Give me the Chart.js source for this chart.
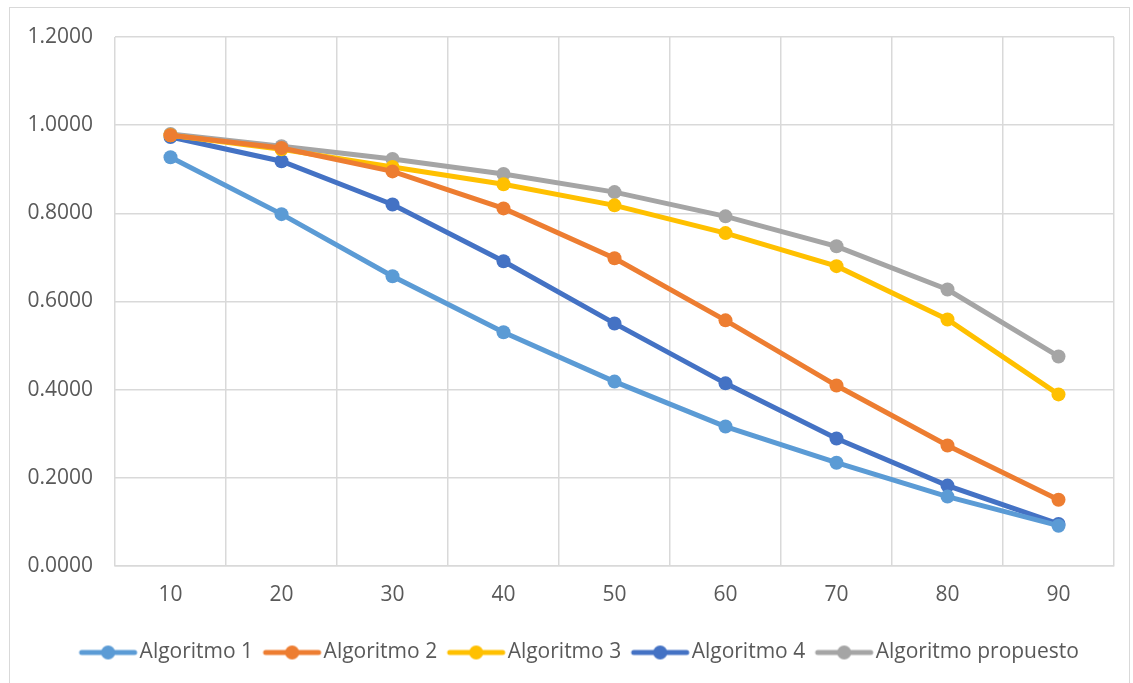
<!DOCTYPE html>
<html>
<head>
<meta charset="utf-8">
<script src="https://cdn.jsdelivr.net/npm/chart.js@4"></script>
<style>
  html, body { margin: 0; padding: 0; background: #fff; }
  #wrap { width: 1133px; height: 683px; position: relative; }
</style>
</head>
<body>
<div id="wrap"><canvas id="lineChart" width="1133" height="683"></canvas></div>
<script>
const categories = ['10', '20', '30', '40', '50', '60', '70', '80', '90'];
const algoritmo1 = [0.927, 0.798, 0.657, 0.530, 0.418, 0.316, 0.234, 0.157, 0.091];
const algoritmo2 = [0.977, 0.948, 0.895, 0.811, 0.698, 0.557, 0.409, 0.273, 0.150];
const algoritmo3 = [0.977, 0.945, 0.905, 0.866, 0.818, 0.755, 0.680, 0.559, 0.389];
const algoritmo4 = [0.973, 0.918, 0.820, 0.691, 0.550, 0.414, 0.289, 0.182, 0.095];
const propuesto  = [0.980, 0.952, 0.923, 0.889, 0.848, 0.793, 0.725, 0.627, 0.475];
const yTicks = [0, 0.2, 0.4, 0.6, 0.8, 1.0, 1.2];

const seriesNames = ['Algoritmo 1', 'Algoritmo 2', 'Algoritmo 3', 'Algoritmo 4', 'Algoritmo propuesto'];
const seriesColors = ['#5B9BD5', '#ED7D31', '#FFC000', '#4472C4', '#A5A5A5'];
const seriesData = [algoritmo1, algoritmo2, algoritmo3, algoritmo4, propuesto];

const FONT = { family: 'Open Sans', size: 21 };

// legend marker: short line with a dot in the middle, like Excel
function legendMarker(color) {
  const c = document.createElement('canvas');
  c.width = 61; c.height = 16;
  const g = c.getContext('2d');
  g.strokeStyle = color;
  g.lineWidth = 5;
  g.lineCap = 'round';
  g.beginPath(); g.moveTo(4, 8); g.lineTo(57, 8); g.stroke();
  g.fillStyle = color;
  g.beginPath(); g.arc(30.5, 8, 7, 0, Math.PI * 2); g.fill();
  return c;
}

const frame = {
  id: 'frame',
  beforeDraw(chart) {
    const ctx = chart.ctx;
    ctx.save();
    ctx.strokeStyle = '#D9D9D9';
    ctx.lineWidth = 1;
    ctx.strokeRect(9.5, 7.5, 1120, 690);
    ctx.restore();
  },
  // legend sits a bit right of centre in the original
  afterLayout(chart) {
    chart.legend.left += 26;
    chart.legend.right += 26;
  }
};

const ctx = document.getElementById('lineChart').getContext('2d');
new Chart(ctx, {
  type: 'line',
  data: {
    labels: categories,
    datasets: seriesNames.map((name, i) => ({
      label: name,
      data: seriesData[i],
      borderColor: seriesColors[i],
      backgroundColor: seriesColors[i],
      borderWidth: 5,
      pointRadius: 7,
      pointHoverRadius: 7,
      pointBorderWidth: 0,
      tension: 0
    }))
  },
  options: {
    responsive: false,
    animation: false,
    layout: { padding: { top: 37, right: 19, left: 0, bottom: 10 } },
    plugins: {
      tooltip: { enabled: false },
      legend: {
        position: 'bottom',
        labels: {
          color: '#595959',
          font: FONT,
          usePointStyle: true,
          pointStyleWidth: 42,
          padding: 18,
          generateLabels: (chart) => chart.data.datasets.map((ds, i) => ({
            text: ds.label,
            fontColor: '#595959',
            pointStyle: legendMarker(ds.borderColor),
            datasetIndex: i,
            lineWidth: 0,
            hidden: false
          }))
        }
      }
    },
    scales: {
      x: {
        offset: true,
        grid: { offset: true, color: '#D9D9D9', lineWidth: 1.5, drawTicks: false },
        border: { color: '#D9D9D9', width: 1.5 },
        ticks: { color: '#595959', font: FONT, padding: 16.5 }
      },
      y: {
        min: 0,
        max: 1.2,
        afterBuildTicks: (scale) => { scale.ticks = yTicks.map(v => ({ value: v })); },
        afterFit: (scale) => { scale.width = 115; },
        grid: { color: '#D9D9D9', lineWidth: 1.5, drawTicks: false },
        border: { display: false },
        ticks: {
          color: '#595959',
          font: FONT,
          padding: 22,
          callback: (v) => Number(v).toFixed(4)
        }
      }
    }
  },
  plugins: [frame]
});
</script>
</body>
</html>
